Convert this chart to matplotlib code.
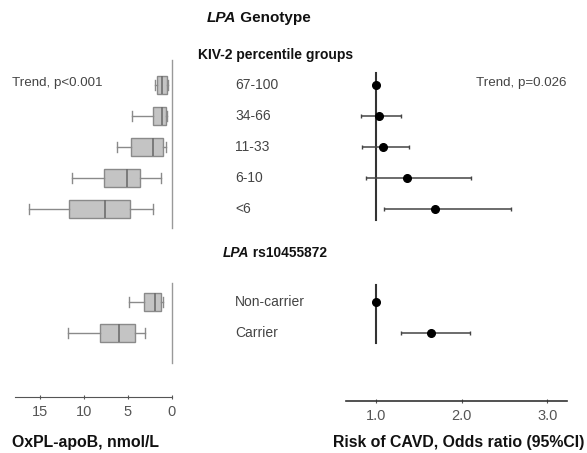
import numpy as np
import matplotlib
matplotlib.use('Agg')
import matplotlib.pyplot as plt
import matplotlib.transforms as mtransforms

plt.rcParams['font.family'] = ['Liberation Sans', 'DejaVu Sans']

# categories
kiv2_groups = ['67-100', '34-66', '11-33', '6-10', '<6']
rs_groups = ['Non-carrier', 'Carrier']

# OxPL-apoB (nmol/L) box statistics
kiv2_whislo = [0.5, 0.6, 0.7, 1.3, 2.2]
kiv2_q1 = [0.6, 0.7, 1.0, 3.6, 4.8]
kiv2_med = [1.1, 1.1, 2.1, 5.1, 7.6]
kiv2_q3 = [1.7, 2.15, 4.7, 7.7, 11.7]
kiv2_whishi = [1.9, 4.5, 6.2, 11.3, 16.2]

rs_whislo = [1.0, 3.1]
rs_q1 = [1.25, 4.2]
rs_med = [1.9, 6.0]
rs_q3 = [3.2, 8.2]
rs_whishi = [4.9, 11.8]

# odds ratios for CAVD (95% CI)
kiv2_or = [1.0, 1.03, 1.08, 1.36, 1.69]
kiv2_lo = [np.nan, 0.82, 0.84, 0.88, 1.09]
kiv2_hi = [np.nan, 1.29, 1.39, 2.11, 2.58]

rs_or = [1.0, 1.64]
rs_lo = [np.nan, 1.29]
rs_hi = [np.nan, 2.10]

# row positions
kiv2_pos = [0, 1, 2, 3, 4]
rs_pos = [7, 8]

W, H = 587., 453.
fig = plt.figure(figsize=(W / 100, H / 100), dpi=100)


def rect(x0, y0, x1, y1):
    return [x0 / W, 1 - y1 / H, (x1 - x0) / W, (y1 - y0) / H]


def fy(py):
    return 1 - py / H


rowpx = 31.
top_row = 85.


def row(py):
    # pixel row -> data row
    return (py - top_row) / rowpx


# ---- left: box plots ----
axl = fig.add_axes(rect(15, 60, 172, 397))
stats = []
for i in range(5):
    stats.append(dict(med=kiv2_med[i], q1=kiv2_q1[i], q3=kiv2_q3[i],
                      whislo=kiv2_whislo[i], whishi=kiv2_whishi[i]))
for i in range(2):
    stats.append(dict(med=rs_med[i], q1=rs_q1[i], q3=rs_q3[i],
                      whislo=rs_whislo[i], whishi=rs_whishi[i]))
gray = '#8a8a8a'
axl.bxp(stats, positions=kiv2_pos + rs_pos, vert=False, widths=0.6,
        capwidths=0.3, showfliers=False, patch_artist=True,
        boxprops=dict(facecolor='#c4c4c4', edgecolor=gray, lw=1.0),
        medianprops=dict(color='#6e6e6e', lw=1.2),
        whiskerprops=dict(color=gray, lw=1.0),
        capprops=dict(color=gray, lw=1.0))
axl.set_xlim(17.8, 0)
axl.set_ylim(row(397), row(60))
axl.plot([0, 0], [row(60), row(228)], color='#999999', lw=1.0, clip_on=False)
axl.plot([0, 0], [row(283), row(363)], color='#999999', lw=1.0, clip_on=False)
axl.set_xticks([15, 10, 5, 0])
axl.set_yticks([])
for s in ['top', 'left', 'right']:
    axl.spines[s].set_visible(False)
axl.spines['bottom'].set_color('#555555')
axl.tick_params(axis='x', colors='#555555', labelsize=10.5, length=3,
                direction='inout', pad=4)

# ---- right: forest plot ----
axr = fig.add_axes(rect(346, 60, 567, 401))
axr.set_xlim(0.65, 3.23)
axr.set_ylim(row(401), row(60))
axr.plot([1, 1], [row(73), row(220)], color='#333333', lw=1.5)
axr.plot([1, 1], [row(285), row(343)], color='#333333', lw=1.5)
ors = kiv2_or + rs_or
los = kiv2_lo + rs_lo
his = kiv2_hi + rs_hi
pos = kiv2_pos + rs_pos
for o, lo, hi, p in zip(ors, los, his, pos):
    if not np.isnan(lo):
        axr.errorbar(o, p, xerr=[[o - lo], [hi - o]], fmt='none',
                     ecolor='#444444', elinewidth=1.1, capsize=1.5,
                     capthick=1.0)
axr.plot(ors, pos, 'o', color='black', ms=5.5, zorder=3)
axr.set_xticks([1, 2, 3])
axr.set_xticklabels(['1.0', '2.0', '3.0'])
axr.set_yticks([])
for s in ['top', 'left', 'right']:
    axr.spines[s].set_visible(False)
axr.spines['bottom'].set_color('#333333')
axr.spines['bottom'].set_linewidth(1.2)
axr.tick_params(axis='x', colors='#555555', labelsize=10.5, length=3,
                direction='inout', pad=4)

# ---- texts ----
fig.text(12 / W, fy(83), 'Trend, p<0.001', fontsize=9.6, color='#444444',
         va='center')
fig.text(567 / W, fy(83), 'Trend, p=0.026', fontsize=9.6, color='#444444',
         va='center', ha='right')

lab_tr = mtransforms.blended_transform_factory(fig.transFigure, axl.transData)
for lab, p in zip(kiv2_groups + rs_groups, kiv2_pos + rs_pos):
    fig.text(235 / W, p, lab, transform=lab_tr, fontsize=10,
             color='#444444', va='center', ha='left')

t1 = fig.text(207 / W, fy(18), 'LPA', fontsize=11, fontweight='bold',
              style='italic', va='center', color='#111111')
plt.annotate(' Genotype', xy=(1, 0.5), xycoords=t1, va='center',
             fontsize=11, fontweight='bold', color='#111111',
             annotation_clip=False)
fig.text(198 / W, fy(55), 'KIV-2 percentile groups', fontsize=10,
         fontweight='bold', va='center', color='#111111')
t2 = fig.text(223 / W, fy(253), 'LPA', fontsize=9.9, fontweight='bold',
              style='italic', va='center', color='#111111')
plt.annotate(' rs10455872', xy=(1, 0.5), xycoords=t2, va='center',
             fontsize=9.9, fontweight='bold', color='#111111',
             annotation_clip=False)

fig.text(12 / W, fy(443), 'OxPL-apoB, nmol/L', fontsize=11.4,
         fontweight='bold', va='center', color='#111111')
fig.text(333 / W, fy(443), 'Risk of CAVD, Odds ratio (95%CI)', fontsize=11.4,
         fontweight='bold', va='center', color='#111111')

fig.savefig('out.png', dpi=100)
